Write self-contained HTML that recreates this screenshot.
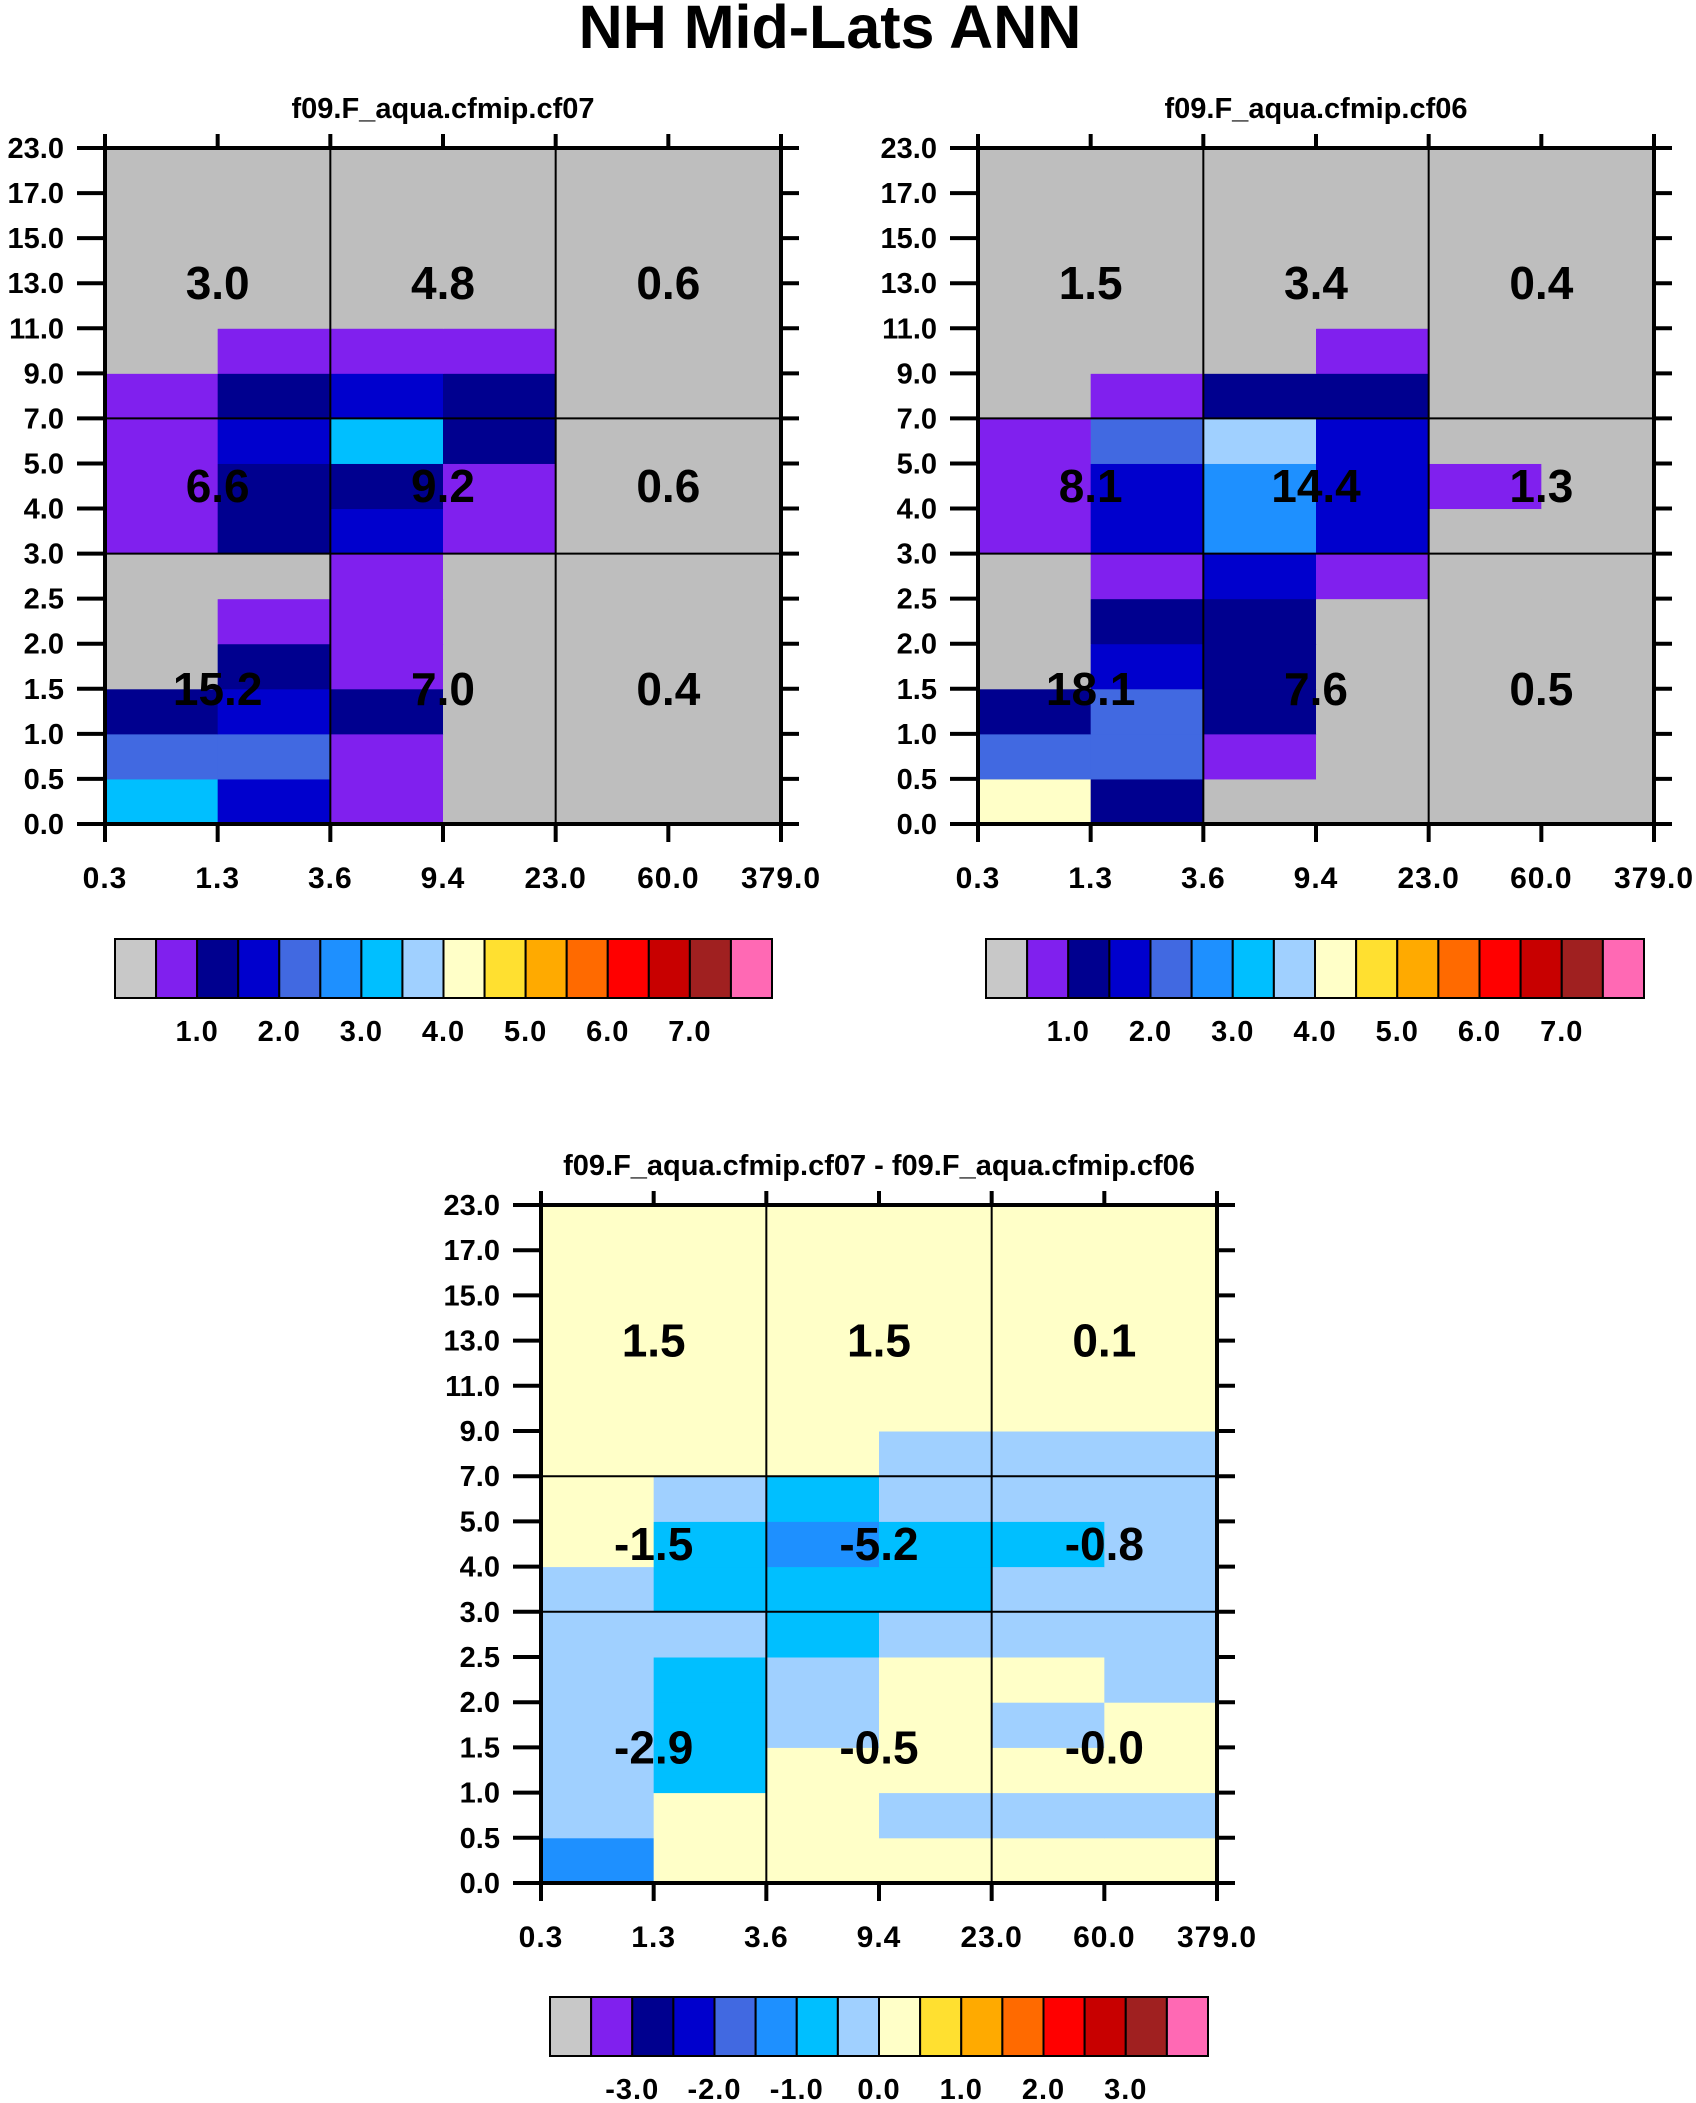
<!DOCTYPE html>
<html><head><meta charset="utf-8"><style>
html,body{margin:0;padding:0;background:#fff;}
svg{display:block;font-family:"Liberation Sans",Arial,sans-serif;font-weight:bold;}
</style></head><body>
<svg id="fig" width="1696" height="2103" viewBox="0 0 1696 2103" xmlns="http://www.w3.org/2000/svg">
<text x="830" y="48" font-size="61" text-anchor="middle">NH Mid-Lats ANN</text>
</svg>
<script>
const palette=["#bebebe","#8020ee","#00008f","#0000cd","#4169e1","#1e90ff","#00bfff","#a0d0ff","#ffffc8","#ffe030","#ffaa00","#ff6a00","#ff0000","#c80000","#a02020","#ff69b4"];
const xTicks=["0.3","1.3","3.6","9.4","23.0","60.0","379.0"];
const levLabels=["0.0","0.5","1.0","1.5","2.0","2.5","3.0","4.0","5.0","7.0","9.0","11.0","13.0","15.0","17.0","23.0"];
const grid1=[[6,3,1,0,0,0],[4,4,1,0,0,0],[2,3,2,0,0,0],[0,2,1,0,0,0],[0,1,1,0,0,0],[0,0,1,0,0,0],[1,2,3,1,0,0],[1,2,2,1,0,0],[1,3,6,2,0,0],[1,2,3,2,0,0],[0,1,1,1,0,0],[0,0,0,0,0,0]];
const grid2=[[8,2,0,0,0,0],[4,4,1,0,0,0],[2,4,2,0,0,0],[0,3,2,0,0,0],[0,2,2,0,0,0],[0,1,3,1,0,0],[1,3,5,3,0,0],[1,3,5,3,1,0],[1,4,7,3,0,0],[0,1,2,2,0,0],[0,0,0,1,0,0],[0,0,0,0,0,0]];
const grid3=[[5,8,8,8,8,8],[7,8,8,7,7,7],[7,6,8,8,8,8],[7,6,7,8,7,8],[7,6,7,8,8,7],[7,7,6,7,7,7],[7,6,6,6,7,7],[8,6,5,6,6,7],[8,7,6,7,7,7],[8,8,8,7,7,7],[8,8,8,8,8,8],[8,8,8,8,8,8]];
const vals1=[["15.2","7.0","0.4"],["6.6","9.2","0.6"],["3.0","4.8","0.6"]];
const vals2=[["18.1","7.6","0.5"],["8.1","14.4","1.3"],["1.5","3.4","0.4"]];
const vals3=[["-2.9","-0.5","-0.0"],["-1.5","-5.2","-0.8"],["1.5","1.5","0.1"]];
const cbLabels1=["1.0","2.0","3.0","4.0","5.0","6.0","7.0"];
const cbLabels3=["-3.0","-2.0","-1.0","0.0","1.0","2.0","3.0"];
const NS="http://www.w3.org/2000/svg";
const svg=document.getElementById('fig');
function mk(tag,attrs,parent){const e=document.createElementNS(NS,tag);for(const k in attrs)e.setAttribute(k,attrs[k]);(parent||svg).appendChild(e);return e;}
function panel(id,x0,y0,x1,y1,grid,vals,title,cbx0,cbx1,cby0,cby1,cbl,cbLabelY){
  const g=mk('g',{});
  
  
  const nR=grid.length,nC=grid[0].length;
  const nL=levLabels.length-1;
  const yAt=i=>y1-(y1-y0)*i/nL;
  const xAt=j=>x0+(x1-x0)*j/nC;
  const rowLev=[0,1,2,3,4,5,6,7,8,9,10,11,15];
  for(let r=0;r<nR;r++)for(let c=0;c<nC;c++){
    const rc=mk('rect',{x:xAt(c),y:yAt(rowLev[r+1]),width:xAt(c+1)-xAt(c)+0.5,height:yAt(rowLev[r])-yAt(rowLev[r+1])+0.5,fill:palette[grid[r][c]]},g);
    
    
  }
  [2,4].forEach(j=>mk('line',{x1:xAt(j),x2:xAt(j),y1:y0,y2:y1,stroke:'#000','stroke-width':2},g));
  [6,9].forEach(i=>mk('line',{x1:x0,x2:x1,y1:yAt(i),y2:yAt(i),stroke:'#000','stroke-width':2},g));
  mk('rect',{x:x0,y:y0,width:x1-x0,height:y1-y0,fill:'none',stroke:'#000','stroke-width':4},g);
  for(let i=0;i<=nL;i++){
    const yy=yAt(i);
    mk('line',{x1:x0-28,x2:x0,y1:yy,y2:yy,stroke:'#000','stroke-width':4},g);
    mk('line',{x1:x1,x2:x1+18,y1:yy,y2:yy,stroke:'#000','stroke-width':4},g);
    const t=mk('text',{x:x0-41,y:yy+10,'font-size':29,'text-anchor':'end'},g);
    t.textContent=levLabels[i];
    
    
  }
  for(let j=0;j<=nC;j++){
    const xx=xAt(j);
    mk('line',{x1:xx,x2:xx,y1:y0-14,y2:y0,stroke:'#000','stroke-width':4},g);
    mk('line',{x1:xx,x2:xx,y1:y1,y2:y1+18,stroke:'#000','stroke-width':4},g);
    const t=mk('text',{x:xx,y:y1+64,'font-size':30,'text-anchor':'middle','letter-spacing':1},g);
    t.textContent=xTicks[j];
    
    
  }
  const bandLev=[[0,6],[6,9],[9,15]];
  for(let b=0;b<3;b++)for(let c=0;c<3;c++){
    const cx=(xAt(c*2)+xAt(c*2+2))/2;
    const cy=(yAt(bandLev[b][0])+yAt(bandLev[b][1]))/2;
    const t=mk('text',{x:cx,y:cy+16,'font-size':46,'text-anchor':'middle'},g);
    t.textContent=vals[b][c];
    
    
  }
  const tt=mk('text',{x:(x0+x1)/2,y:y0-30,'font-size':29,'text-anchor':'middle'},g);
  tt.textContent=title;
  
  
  const cb=mk('g',{},g);
  
  
  const w=(cbx1-cbx0)/palette.length;
  palette.forEach((col,k)=>{
    const r=mk('rect',{x:cbx0+k*w,y:cby0,width:w,height:cby1-cby0,fill:k==0?'#c8c8c8':col,stroke:'#000','stroke-width':2},cb);
    
    
  });
  cbl.forEach((l,k)=>{
    const t=mk('text',{x:cbx0+(2*k+2)*w,y:cbLabelY,'font-size':29,'text-anchor':'middle','letter-spacing':1},cb);
    t.textContent=l;
    
    
  });
}
panel('panel-cf07',105,148,781,824,grid1,vals1,'f09.F_aqua.cfmip.cf07',115,772,939,998,cbLabels1,1041);
panel('panel-cf06',978,148,1654,824,grid2,vals2,'f09.F_aqua.cfmip.cf06',986,1644,939,998,cbLabels1,1041);
panel('panel-diff',541,1205,1217,1883,grid3,vals3,'f09.F_aqua.cfmip.cf07 - f09.F_aqua.cfmip.cf06',550,1208,1997,2056,cbLabels3,2099);
</script>
</body></html>
